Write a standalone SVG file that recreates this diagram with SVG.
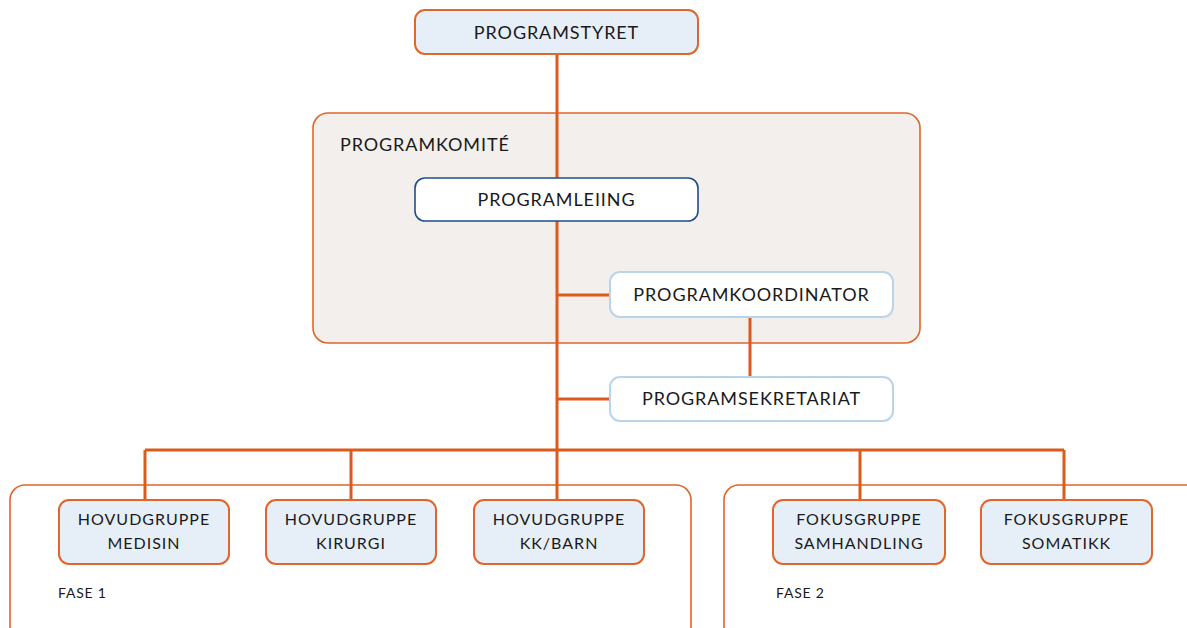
<svg xmlns="http://www.w3.org/2000/svg" width="1187" height="628" viewBox="0 0 1187 628">
<style>
.t{font-family:Lato,"Open Sans","Liberation Sans",sans-serif;font-size:18px;fill:#1a1a1a;text-anchor:middle;letter-spacing:0.9px}
.tl{font-family:Lato,"Open Sans","Liberation Sans",sans-serif;fill:#1a1a1a}
.g{font-size:16px;letter-spacing:1px}
.ob{fill:#e6eef8;stroke:#e0662a;stroke-width:2}
.wb{fill:#ffffff;stroke:#b9d5ec;stroke-width:2}
.cont{fill:none;stroke:#e0662a;stroke-width:1.6}
.c{stroke:#dc5a1c;stroke-width:3;fill:none}
</style>
<rect width="1187" height="628" fill="#ffffff"/>
<g id="fase1">
<rect class="cont" x="10" y="485" width="681" height="170" rx="15"/>
<text class="tl" x="58" y="598" font-size="14" letter-spacing="0.8">FASE 1</text>
</g>
<g id="fase2">
<rect class="cont" x="724" y="485" width="500" height="170" rx="15"/>
<text class="tl" x="776" y="598" font-size="14" letter-spacing="0.8">FASE 2</text>
</g>
<g id="programkomite">
<rect x="313" y="113" width="607" height="230" rx="15" fill="#f3efec" stroke="#e0662a" stroke-width="1.6"/>
<text class="tl" x="340" y="151" font-size="18" letter-spacing="0.9">PROGRAMKOMITÉ</text>
</g>
<g id="connectors">
<path class="c" d="M557 54V450"/>
<path class="c" d="M557 295H610"/>
<path class="c" d="M750 317V377"/>
<path class="c" d="M557 399H610"/>
<path class="c" d="M145 450H1064"/>
<path class="c" d="M145 450V500M351 450V500M557 450V500M860 450V500M1064 450V500"/>
</g>
<g id="programstyret">
<rect class="ob" x="415" y="10" width="283" height="44" rx="10"/>
<text class="t" x="556.5" y="38.5">PROGRAMSTYRET</text>
</g>
<g id="programleiing">
<rect x="415" y="178" width="283" height="43" rx="10" fill="#ffffff" stroke="#1f4e8c" stroke-width="1.6"/>
<text class="t" x="556.5" y="206">PROGRAMLEIING</text>
</g>
<g id="programkoordinator">
<rect class="wb" x="610" y="272" width="283" height="45" rx="10"/>
<text class="t" x="751.5" y="301">PROGRAMKOORDINATOR</text>
</g>
<g id="programsekretariat">
<rect class="wb" x="610" y="377" width="283" height="44" rx="10"/>
<text class="t" x="751.5" y="405">PROGRAMSEKRETARIAT</text>
</g>
<g id="medisin">
<rect class="ob" x="59" y="500" width="170" height="64" rx="10"/>
<text class="t g" x="144" y="525">HOVUDGRUPPE</text>
<text class="t g" x="144" y="549">MEDISIN</text>
</g>
<g id="kirurgi">
<rect class="ob" x="266" y="500" width="170" height="64" rx="10"/>
<text class="t g" x="351" y="525">HOVUDGRUPPE</text>
<text class="t g" x="351" y="549">KIRURGI</text>
</g>
<g id="kkbarn">
<rect class="ob" x="474" y="500" width="170" height="64" rx="10"/>
<text class="t g" x="559" y="525">HOVUDGRUPPE</text>
<text class="t g" x="559" y="549">KK/BARN</text>
</g>
<g id="samhandling">
<rect class="ob" x="773" y="500" width="172" height="64" rx="10"/>
<text class="t g" x="859" y="525">FOKUSGRUPPE</text>
<text class="t g" x="859" y="549">SAMHANDLING</text>
</g>
<g id="somatikk">
<rect class="ob" x="981" y="500" width="171" height="64" rx="10"/>
<text class="t g" x="1066.5" y="525">FOKUSGRUPPE</text>
<text class="t g" x="1066.5" y="549">SOMATIKK</text>
</g>
</svg>
